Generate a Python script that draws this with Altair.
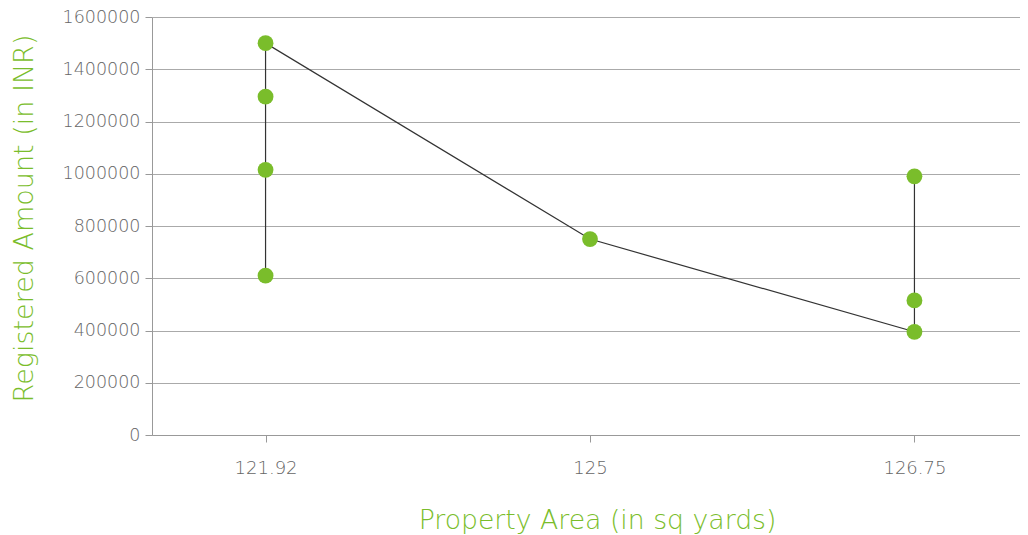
import altair as alt
import pandas as pd

areas = ["121.92", "121.92", "121.92", "121.92", "125", "126.75", "126.75", "126.75"]
amounts = [610000, 1015000, 1295000, 1500000, 750000, 395000, 515000, 990000]
order = list(range(len(areas)))
x_categories = ["121.92", "125", "126.75"]
y_ticks = [0, 200000, 400000, 600000, 800000, 1000000, 1200000, 1400000, 1600000]

df = pd.DataFrame({"area": areas, "amount": amounts, "idx": order})

GREEN = "#7abd2b"
FONT = "DejaVu Sans"

x_enc = alt.X(
    "area:N",
    sort=x_categories,
    scale=alt.Scale(type="point", padding=0.35, range=[0, 876]),
    axis=alt.Axis(
        title="Property Area (in sq yards)",
        labelAngle=0,
        labelFont=FONT,
        labelFontSize=18,
        labelFontWeight=200,
        labelColor="#666666",
        labelPadding=17,
        tickColor="#999999",
        tickSize=7,
        domainColor="#999999",
        grid=False,
        titleFont=FONT,
        titleFontSize=26.7,
        titleFontWeight=200,
        titleColor=GREEN,
        titleX=445,
        titleY=85,
        titleBaseline="middle",
    ),
)
y_enc = alt.Y(
    "amount:Q",
    scale=alt.Scale(domain=[0, 1600000], nice=False),
    axis=alt.Axis(
        title="Registered Amount (in INR)",
        values=y_ticks,
        format="d",
        labelFont=FONT,
        labelFontSize=17.5,
        labelFontWeight=200,
        labelColor="#666666",
        labelPadding=5,
        tickColor="#999999",
        tickSize=7,
        domainColor="#999999",
        gridColor="#aaaaaa",
        titleFont=FONT,
        titleFontSize=27,
        titleFontWeight=200,
        titleColor=GREEN,
        titleX=-128,
        titleY=201,
        titleAngle=-90,
        titleBaseline="middle",
        titleAlign="center",
    ),
)

line = alt.Chart(df).mark_line(color="#333333", strokeWidth=1.2).encode(
    x=x_enc, y=y_enc, order="idx:Q"
)
pts = alt.Chart(df).mark_circle(color=GREEN, opacity=1, size=250).encode(
    x=alt.X("area:N", sort=x_categories),
    y="amount:Q",
)

chart = (
    alt.layer(line, pts)
    .properties(
        width=868,
        height=418,
        padding={"left": 144, "top": 9, "right": 0, "bottom": 100},
        autosize=alt.AutoSizeParams(type="none"),
    )
    .configure_view(stroke=None)
)

chart.save("out.html", embed_options={"renderer": "svg", "actions": False})
